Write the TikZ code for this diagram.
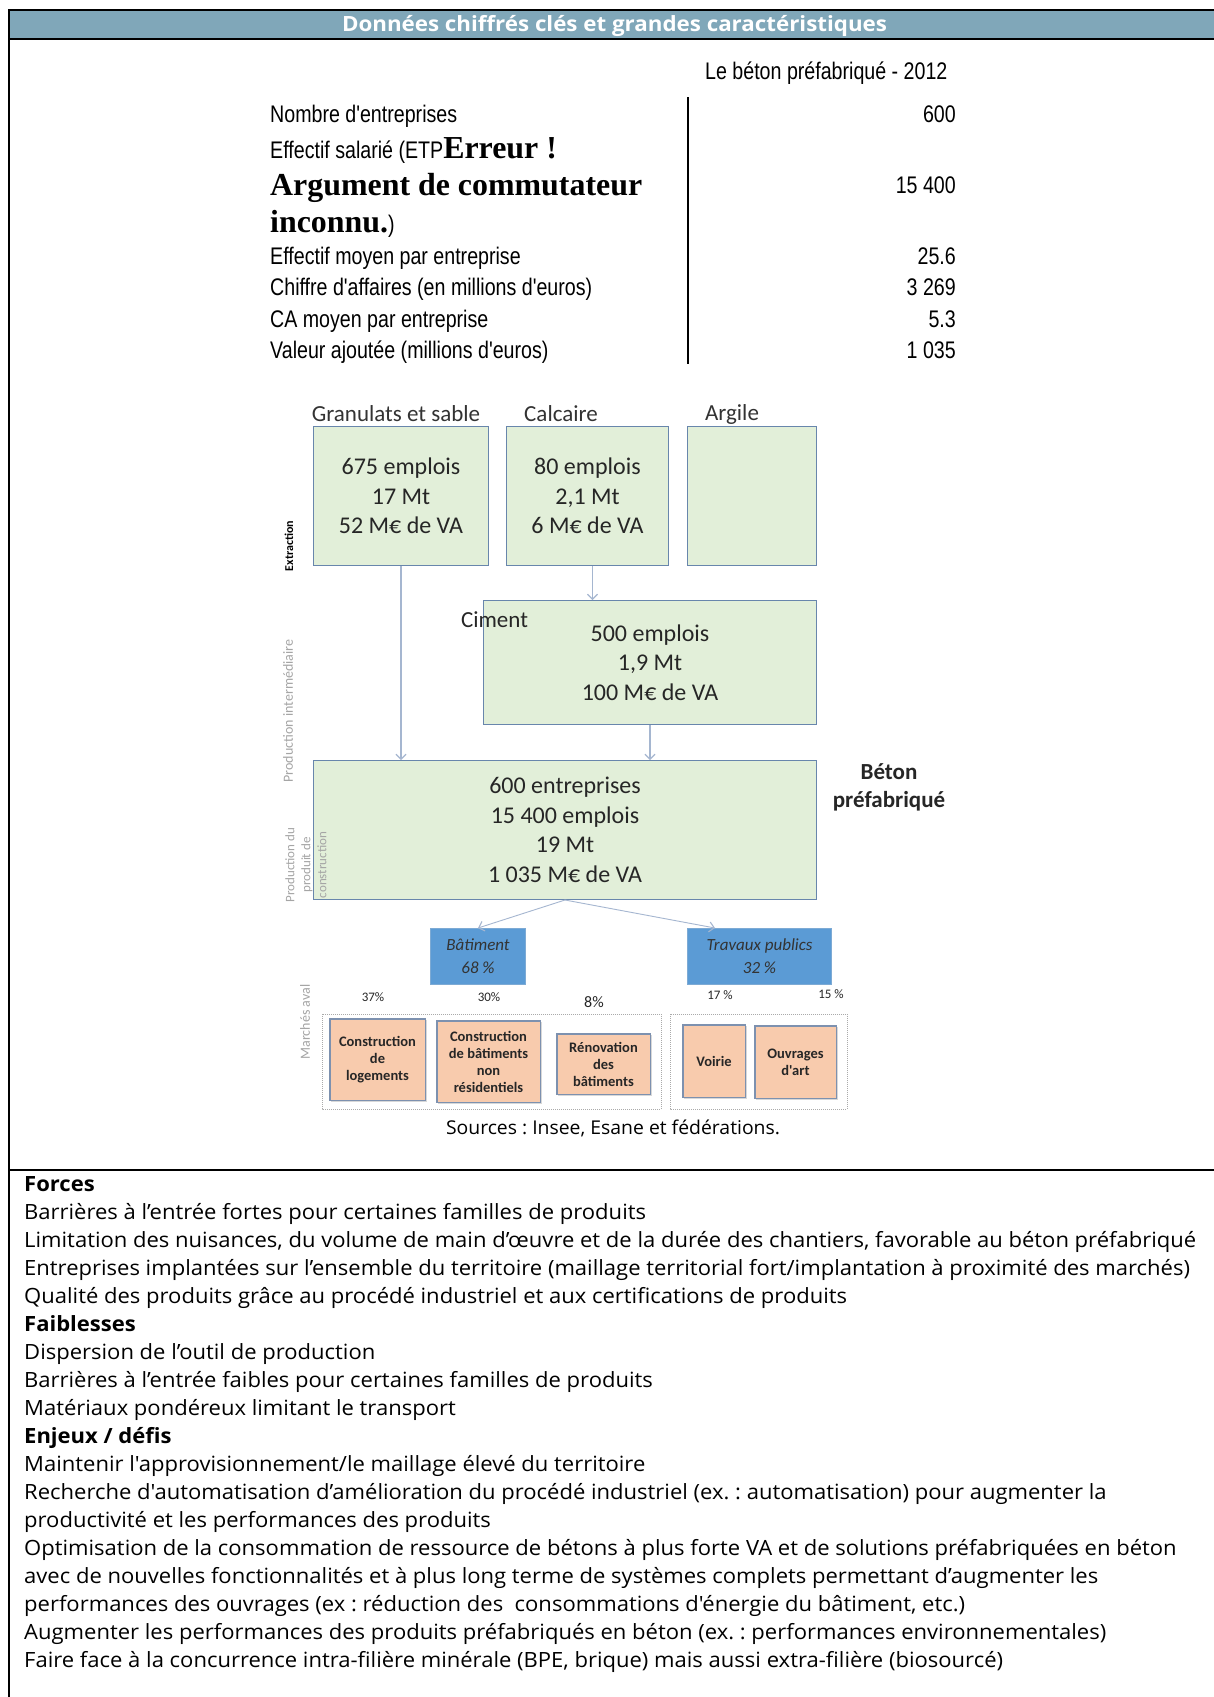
\documentclass[tikz,border=0pt]{standalone}
\usepackage{fontspec}
\usepackage{graphicx}
\newfontfamily\osans{Open Sans}
\newfontfamily\narrowf{Liberation Sans}
\newfontfamily\serifb{Liberation Serif}
\newfontfamily\calf{Carlito}
\usetikzlibrary{arrows.meta,shadows}

\definecolor{headband}{RGB}{128,167,185}
\definecolor{boxgreen}{RGB}{226,239,217}
\definecolor{boxedge}{RGB}{104,134,172}
\definecolor{flow}{RGB}{165,182,208}
\definecolor{bluebox}{RGB}{91,155,213}
\definecolor{blueedge}{RGB}{125,170,212}
\definecolor{peach}{RGB}{248,203,173}
\definecolor{peachedge}{RGB}{125,145,175}
\definecolor{sidegray}{RGB}{165,165,165}
\definecolor{dotgray}{RGB}{170,170,170}

% font set-ups
\newcommand\bodyfont{\osans\fontsize{21}{28}\selectfont}
\newcommand\titlefont{\osans\fontsize{21}{26}\selectfont\bfseries}
\newcommand\tabfont{\narrowf\fontsize{24}{30}\selectfont}
\newcommand\errfont{\serifb\bfseries\fontsize{32}{38}\selectfont}
\newcommand\srcfont{\osans\fontsize{19}{24}\selectfont}

% horizontal fitting factors, measured on one reference line per style
\newsavebox\fitbox
\newlength\fitlen
\newcommand\fitratio[4]{%
  \sbox\fitbox{#2#4}\setlength\fitlen{\wd\fitbox}%
  \pgfmathsetmacro#1{#3/\fitlen}}

\newcommand\bl[1]{\scalebox{\bodyx}[1]{#1}}
\newcommand\tb[1]{\scalebox{\tabx}[1]{#1}}
\newcommand\er[1]{\scalebox{\serx}[1]{#1}}

\begin{document}
\frenchspacing
\fitratio{\bodyx}{\bodyfont}{1172}{Limitation des nuisances, du volume de main d’œuvre et de la durée des chantiers, favorable au béton préfabriqué}%
\fitratio{\titlex}{\titlefont}{545}{Données chiffrés clés et grandes caractéristiques}%
\fitratio{\tabx}{\tabfont}{322}{Chiffre d'affaires (en millions d'euros)}%
\fitratio{\serx}{\errfont}{372}{Argument de commutateur}%
\fitratio{\srcx}{\srcfont}{334}{Sources : Insee, Esane et fédérations.}%
\begin{tikzpicture}[x=1pt,y=-1pt,
  body/.style={anchor=base west, inner sep=0pt, font=\bodyfont},
  bodyhead/.style={body, font=\bodyfont\bfseries},
  tabtxt/.style={anchor=base west, inner sep=0pt, font=\tabfont},
  tabnum/.style={anchor=base east, inner sep=0pt, font=\tabfont},
  greenbox/.style={draw=boxedge, fill=boxgreen, line width=1.4pt, inner sep=0pt,
    align=center, font=\calf\fontsize{24}{29.5}\selectfont, text=black!85},
  boxlabel/.style={inner sep=0pt, font=\calf\fontsize{23}{28}\selectfont, text=black!80},
  sidelabel/.style={rotate=90, inner sep=0pt, align=center, text=sidegray,
    font=\calf\fontsize{13}{16}\selectfont},
  flowarrow/.style={draw=flow, line width=1.2pt,
    -{Straight Barb[length=5pt,width=10pt,line width=1.1pt]}},
  marketbox/.style={draw=blueedge, fill=bluebox, line width=1pt, inner sep=0pt,
    align=center, font=\calf\itshape\fontsize{17}{23}\selectfont, text=black!80},
  share/.style={inner sep=0pt, font=\calf\fontsize{13}{16}\selectfont, text=black!85},
  segbox/.style={draw=peachedge, fill=peach, line width=1.5pt, inner sep=0pt,
    align=center, font=\calf\bfseries\fontsize{14.5}{17}\selectfont, text=black!85,
    drop shadow={shadow xshift=1.5pt, shadow yshift=-1.5pt, fill=black!30}},
  groupbox/.style={draw=dotgray, line width=1pt, dash pattern=on 1pt off 1pt}
]
\useasboundingbox (0,0) rectangle (1214,1697);
\fill[white] (0,0) rectangle (1214,1697);

% frame and header band
\fill[headband] (9,10) rectangle (1214,39.3);
\draw[line width=2pt] (8,10) -- (1214,10);
\draw[line width=2pt] (9,39.3) -- (1214,39.3);
\draw[line width=2pt] (9,9) -- (9,1697);
\draw[line width=2pt] (9,1170) -- (1214,1170);
\node[anchor=base, inner sep=0pt, font=\titlefont, text=white] (title) at (614.5,31.5)
  {\scalebox{\titlex}[1]{Données chiffrés clés et grandes caractéristiques}};

% key figures table
\node[tabtxt] (tabhead) at (705,79) {\tb{Le béton préfabriqué - 2012}};
\node[tabtxt] (r1) at (270,122) {\tb{Nombre d'entreprises}};
\node[tabtxt] (r2) at (270,158) {\tb{Effectif salarié (ETP}{\errfont\er{Erreur !}}};
\node[tabtxt, font=\errfont] (r3) at (270,195) {\er{Argument de commutateur}};
\node[tabtxt] (r4) at (270,232) {{\errfont\er{inconnu.}}\tb{)}};
\node[tabtxt] (r5) at (270,264) {\tb{Effectif moyen par entreprise}};
\node[tabtxt] (r6) at (270,295.5) {\tb{Chiffre d'affaires (en millions d'euros)}};
\node[tabtxt] (r7) at (270,327) {\tb{CA moyen par entreprise}};
\node[tabtxt] (r8) at (270,358) {\tb{Valeur ajoutée (millions d'euros)}};
\node[tabnum] (v1) at (956,122) {\tb{600}};
\node[tabnum] (v2) at (956,193.6) {\tb{15 400}};
\node[tabnum] (v5) at (956,264) {\tb{25.6}};
\node[tabnum] (v6) at (956,295.5) {\tb{3 269}};
\node[tabnum] (v7) at (956,327) {\tb{5.3}};
\node[tabnum] (v8) at (956,358) {\tb{1 035}};
\coordinate (sepTop) at (688,97);
\coordinate (sepBot) at (688,364);
\draw[line width=1.6pt] (sepTop) -- (sepBot);

% extraction stage
\node[greenbox, minimum width=174.6pt, minimum height=138.6pt] (gran) at (401,496)
  {675 emplois\\17 Mt\\52 M€ de VA};
\node[greenbox, minimum width=161.6pt, minimum height=138.6pt] (calc) at (587.5,496)
  {80 emplois\\2,1 Mt\\6 M€ de VA};
\node[greenbox, minimum width=128.6pt, minimum height=138.6pt] (argi) at (752,496) {};
\node[boxlabel] (granL) at (396,414) {Granulats et sable};
\node[boxlabel] (calcL) at (561,414) {Calcaire};
\node[boxlabel] (argiL) at (732,414) {Argile};
\node[sidelabel, text=black, font=\calf\bfseries\fontsize{12}{14}\selectfont] (extr) at (289,546) {Extraction};

% intermediate production
\node[greenbox, minimum width=332.6pt, minimum height=123.6pt] (cim) at (650,662.5)
  {500 emplois\\1,9 Mt\\100 M€ de VA};
\node[boxlabel, text=black!85] (cimL) at (494.5,620) {Ciment};
\node[sidelabel, font=\calf\fontsize{14}{16}\selectfont] (prodi) at (288,711) {Production intermédiaire};

% precast concrete
\node[greenbox, minimum width=502.6pt, minimum height=138.6pt] (beton) at (565,830)
  {600 entreprises\\15 400 emplois\\19 Mt\\1 035 M€ de VA};
\node[inner sep=0pt, align=center, font=\calf\bfseries\fontsize{23}{28}\selectfont, text=black!85]
  (betonL) at (889,787) {Béton\\préfabriqué};
\node[sidelabel] (prodc) at (306,865) {Production du\\produit de\\construction};

% flows
\draw[flowarrow] (gran.south) -- (gran.south |- beton.north);
\draw[flowarrow] ([xshift=5pt]calc.south) -- ([xshift=5pt]calc.south |- cim.north);
\draw[flowarrow] (cim.south) -- (cim.south |- beton.north);

% downstream markets
\node[marketbox, minimum width=95pt, minimum height=56pt] (bat) at (478,956.5) {Bâtiment\\68 \%};
\node[marketbox, minimum width=144pt, minimum height=56pt] (tp) at (759.5,956.5) {Travaux publics\\32 \%};
\coordinate (tpIn) at (715,928);
\draw[flowarrow, line width=0.9pt] (beton.south) -- (bat.north);
\draw[flowarrow, line width=0.9pt] (beton.south) -- (tpIn);
\node[sidelabel, font=\calf\fontsize{14}{16}\selectfont] (aval) at (305,1022) {Marchés aval};

\node[share] (p37) at (373,997) {37\%};
\node[share] (p30) at (489,997) {30\%};
\node[share, font=\calf\fontsize{16}{18}\selectfont] (p8) at (594,1002) {8\%};
\node[share] (p17) at (720,995) {17 \%};
\node[share] (p15) at (831,994) {15 \%};

\draw[groupbox] (322,1014) rectangle (661,1109);
\draw[groupbox] (670,1014) rectangle (847,1109);

\node[segbox, minimum width=95.5pt, minimum height=81.5pt] (seg1) at (377.5,1059.5)
  {Construction\\de\\logements};
\node[segbox, minimum width=103.5pt, minimum height=81.5pt] (seg2) at (488.5,1061.5)
  {Construction\\de bâtiments\\non\\résidentiels};
\node[segbox, minimum width=93.5pt, minimum height=60.5pt] (seg3) at (603.5,1064)
  {Rénovation\\des\\bâtiments};
\node[segbox, minimum width=62.5pt, minimum height=72.5pt] (seg4) at (714,1061) {Voirie};
\node[segbox, minimum width=81.5pt, minimum height=72.5pt] (seg5) at (795.5,1062)
  {Ouvrages\\d'art};

\node[anchor=base, inner sep=0pt, font=\srcfont] (src) at (613,1134)
  {\scalebox{\srcx}[1]{Sources : Insee, Esane et fédérations.}};

% strengths, weaknesses, stakes
\node[bodyhead] (b1) at (24,1191.5) {\bl{Forces}};
\node[body] (b2) at (24,1219.5) {\bl{Barrières à l’entrée fortes pour certaines familles de produits}};
\node[body] (b3) at (24,1247.5) {\bl{Limitation des nuisances, du volume de main d’œuvre et de la durée des chantiers, favorable au béton préfabriqué}};
\node[body] (b4) at (24,1275.5) {\bl{Entreprises implantées sur l’ensemble du territoire (maillage territorial fort/implantation à proximité des marchés)}};
\node[body] (b5) at (24,1303.5) {\bl{Qualité des produits grâce au procédé industriel et aux certifications de produits}};
\node[bodyhead] (b6) at (24,1331.5) {\bl{Faiblesses}};
\node[body] (b7) at (24,1359.5) {\bl{Dispersion de l’outil de production}};
\node[body] (b8) at (24,1387.5) {\bl{Barrières à l’entrée faibles pour certaines familles de produits}};
\node[body] (b9) at (24,1415.5) {\bl{Matériaux pondéreux limitant le transport}};
\node[bodyhead] (b10) at (24,1443.5) {\bl{Enjeux / défis}};
\node[body] (b11) at (24,1471.5) {\bl{Maintenir l'approvisionnement/le maillage élevé du territoire}};
\node[body] (b12) at (24,1499.5) {\bl{Recherche d'automatisation d’amélioration du procédé industriel (ex. : automatisation) pour augmenter la}};
\node[body] (b13) at (24,1527.5) {\bl{productivité et les performances des produits}};
\node[body] (b14) at (24,1555.5) {\bl{Optimisation de la consommation de ressource de bétons à plus forte VA et de solutions préfabriquées en béton}};
\node[body] (b15) at (24,1583.5) {\bl{avec de nouvelles fonctionnalités et à plus long terme de systèmes complets permettant d’augmenter les}};
\node[body] (b16) at (24,1611.5) {\bl{performances des ouvrages (ex : réduction des\ \ consommations d'énergie du bâtiment, etc.)}};
\node[body] (b17) at (24,1639.5) {\bl{Augmenter les performances des produits préfabriqués en béton (ex. : performances environnementales)}};
\node[body] (b18) at (24,1667.5) {\bl{Faire face à la concurrence intra-filière minérale (BPE, brique) mais aussi extra-filière (biosourcé)}};
\end{tikzpicture}
\end{document}
